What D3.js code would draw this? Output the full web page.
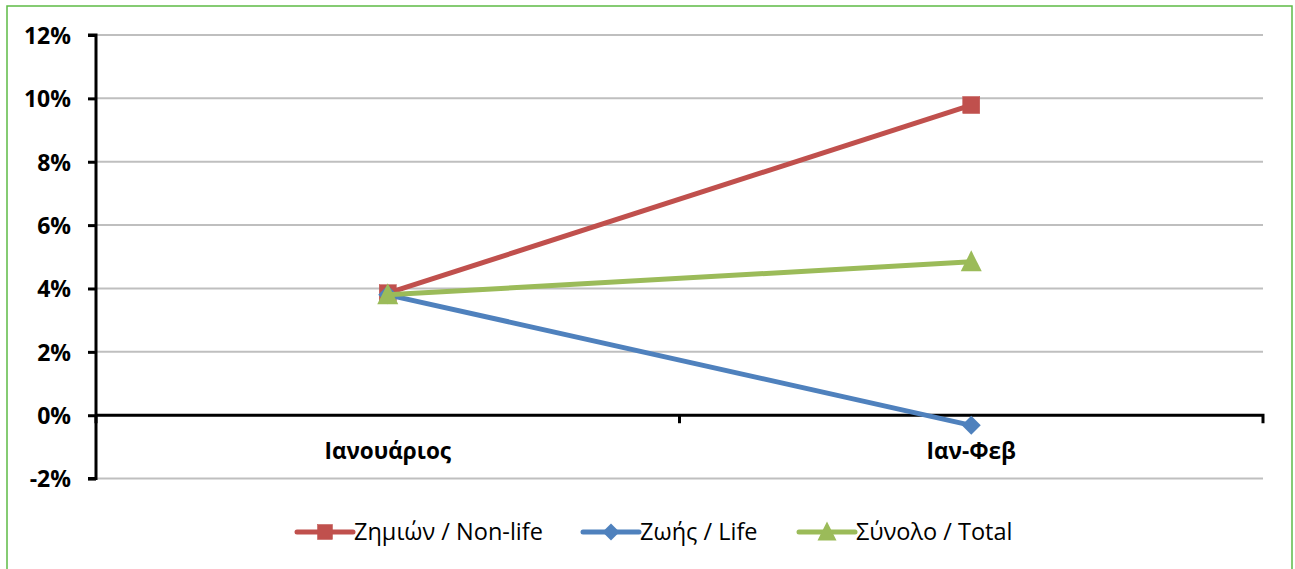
<!DOCTYPE html>
<html><head><meta charset="utf-8">
<script src="https://cdn.jsdelivr.net/npm/d3@7"></script>
<style>body{margin:0;background:#fff}svg{display:block}</style>
</head><body>
<script>
const categories = ["Ιανουάριος", "Ιαν-Φεβ"];
const nonLife = [3.85, 9.79];
const life = [3.8, -0.32];
const total = [3.8, 4.84];
const yTicks = [-2, 0, 2, 4, 6, 8, 10, 12];
const seriesNames = ["Ζημιών / Non-life", "Ζωής / Life", "Σύνολο / Total"];
const seriesColors = ["#C0504D", "#4F81BD", "#9BBB59"];
const seriesShapes = ["square", "diamond", "triangle"];

const W = 1295, H = 569;
const svg = d3.select("body").append("svg").attr("width", W).attr("height", H);
svg.append("rect").attr("x", 7).attr("y", 6).attr("width", 1285).attr("height", 570)
  .attr("fill", "#fff").attr("stroke", "#5DBB46").attr("stroke-width", 1.5);

const x0 = 96, x1 = 1263;
const y = d3.scaleLinear().domain([-2, 12]).range([478.6, 35]);
const x = d3.scaleBand().domain(categories).range([x0, x1]);
const cx = c => x(c) + x.bandwidth() / 2;
const font = "'Open Sans', sans-serif";

// gridlines
svg.append("g").selectAll("line").data(yTicks).join("line")
  .attr("x1", x0).attr("x2", x1).attr("y1", d => y(d)).attr("y2", d => y(d))
  .attr("stroke", "#BFBFBF").attr("stroke-width", 2);

// y axis
const yAxis = d3.axisLeft(y).tickValues(yTicks).tickSize(8).tickFormat(d => d + "%");
const gy = svg.append("g").attr("transform", `translate(${x0},0)`).call(yAxis);
gy.attr("font-size", null).attr("font-family", null);
gy.select(".domain").attr("stroke", "#000").attr("stroke-width", 3).attr("d", `M-8,${y(12)}H0V${y(-2)}H-8`);
gy.selectAll(".tick line").attr("stroke", "#000").attr("stroke-width", 3);
gy.selectAll(".tick text").attr("x", -25).attr("dy", "0.36em")
  .style("font-family", font).style("font-size", "23px").style("font-weight", "bold").attr("fill", "#000");

// x axis at 0
const xAxis = d3.axisBottom(x).tickSize(0).tickPadding(0);
const gx = svg.append("g").attr("transform", `translate(0,${y(0)})`).call(xAxis);
gx.attr("font-size", null).attr("font-family", null);
gx.select(".domain").attr("stroke", "#000").attr("stroke-width", 3).attr("d", `M${x0},0H${x1}V8`);
gx.selectAll(".tick text").attr("y", 44).attr("dy", 0)
  .style("font-family", font).style("font-size", "22.5px").style("font-weight", "bold").attr("fill", "#000");
// category boundary ticks
const bounds = [x0, x0 + x.step()];
svg.append("g").selectAll("line").data(bounds).join("line")
  .attr("x1", d => d).attr("x2", d => d).attr("y1", y(0)).attr("y2", y(0) + 8)
  .attr("stroke", "#000").attr("stroke-width", 3);

function marker(g, shape, color, px, py, s) {
  if (shape === "square") {
    g.append("rect").attr("x", px - s / 2).attr("y", py - s / 2).attr("width", s).attr("height", s)
      .attr("fill", color).attr("stroke", color).attr("stroke-width", 0.5);
  } else if (shape === "diamond") {
    const r = s / 2 + 1;
    g.append("path").attr("d", `M${px},${py - r}L${px + r},${py}L${px},${py + r}L${px - r},${py}Z`).attr("fill", color);
  } else {
    const r = s / 2 + 2;
    g.append("path").attr("d", `M${px},${py - r - 1}L${px + r},${py + r - 1}L${px - r},${py + r - 1}Z`).attr("fill", color);
  }
}

const allSeries = [nonLife, life, total];
const line = d3.line().x((d, i) => cx(categories[i])).y(d => y(d));
allSeries.forEach((vals, si) => {
  const g = svg.append("g");
  g.append("path").attr("d", line(vals)).attr("fill", "none").attr("stroke", seriesColors[si])
    .attr("stroke-width", 5).attr("stroke-linejoin", "round");
  vals.forEach((v, i) => marker(g, seriesShapes[si], seriesColors[si], cx(categories[i]), y(v), 17));
});

// legend
const legendX = [297, 583, 799];
const ly = 532;
seriesNames.forEach((n, i) => {
  const g = svg.append("g");
  g.append("line").attr("x1", legendX[i]).attr("x2", legendX[i] + 56).attr("y1", ly).attr("y2", ly)
    .attr("stroke", seriesColors[i]).attr("stroke-width", 5).attr("stroke-linecap", "round");
  marker(g, seriesShapes[i], seriesColors[i], legendX[i] + 28, ly, 15);
  g.append("text").attr("x", legendX[i] + 57).attr("y", ly).attr("dy", "0.36em")
    .style("font-family", font).style("font-size", "23.5px").attr("fill", "#000").text(n);
});
</script>
</body></html>
